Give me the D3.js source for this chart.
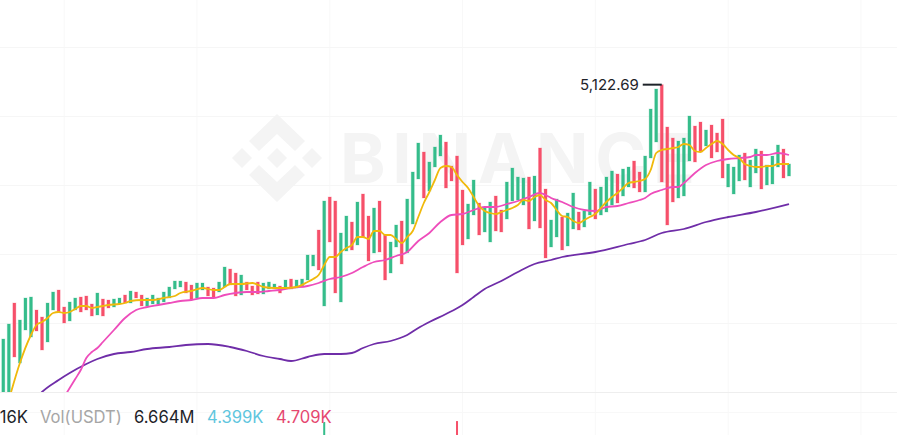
<!DOCTYPE html>
<html>
<head>
<meta charset="utf-8">
<script src="https://cdn.jsdelivr.net/npm/d3@7"></script>
<style>
    html, body { margin: 0; padding: 0; background: #fff; overflow: hidden; }
    svg { display: block; font-family: Inter, "Noto Sans", sans-serif; }
</style>
</head>
<body>
<div id="canvas"></div>
<script>
// candle bodies, one entry per candle
const bodyTop = [3088,3208,3376,3240,3416,3424,3320,3264,3376,3464,
    3480,3344,3384,3416,3424,3432,3368,3456,3408,3400,
    3408,3416,3440,3472,3464,3440,3416,3440,3416,3464,
    3504,3552,3552,3544,3520,3536,3536,3504,3496,3544,
    3664,3648,3616,3600,3544,3512,3544,3536,3544,3528,
    3512,3560,3568,3560,3568,3760,3760,3960,4192,4224,
    4192,3936,4072,4024,4184,4248,4072,4136,4192,3920,
    3864,4000,4032,4208,4424,4656,4584,4504,4624,4720,
    4664,4472,4552,4280,4168,4360,4176,4144,4184,4232,
    4120,4344,4456,4384,4376,4384,4392,4616,4288,4040,
    4208,4064,4096,4256,4104,4112,4344,4288,4304,4384,
    4432,4408,4448,4464,4512,4424,4552,4928,5088,5122.69,
    4784,4696,4672,4696,4872,4792,4824,4760,4800,4736,
    4848,4488,4464,4560,4576,4520,4608,4592,4480,4552,
    4640,4608,4488];
const bodyBottom = [2600,2640,2944,2896,3160,3104,3152,3000,3064,3320,
    3304,3216,3232,3320,3304,3320,3272,3280,3272,3336,
    3344,3368,3376,3376,3416,3352,3352,3368,3368,3384,
    3416,3488,3504,3456,3400,3416,3480,3432,3416,3464,
    3504,3520,3432,3440,3480,3440,3448,3448,3488,3496,
    3456,3488,3488,3496,3512,3560,3672,3640,3352,3864,
    3456,3384,3792,3800,3840,3904,3712,3776,3784,3560,
    3616,3824,3688,3776,4008,4368,4216,4272,4464,4552,
    4296,4352,3616,3840,3888,4080,3920,3944,3864,3952,
    3944,4048,4192,4200,4160,3968,4032,3976,3736,3824,
    3904,3800,3832,3968,3960,3984,4080,4048,4080,4104,
    4160,4176,4232,4304,4296,4264,4264,4536,4664,4344,
    4000,4184,4216,4232,4512,4504,4584,4632,4536,4584,
    4376,4304,4248,4352,4360,4304,4416,4288,4320,4328,
    4464,4376,4392];
// 1 = up candle, 0 = down candle
const rising = [1,1,0,1,1,1,0,0,1,1,
    0,0,1,1,0,0,0,1,0,0,
    1,1,0,1,0,0,1,1,1,1,
    1,1,1,0,0,1,1,0,0,1,
    1,0,0,1,0,0,0,1,1,1,
    0,1,0,1,1,1,1,0,1,0,
    0,1,1,0,1,0,0,1,0,0,
    1,1,0,1,1,1,0,1,1,1,
    0,0,0,0,1,1,0,1,1,0,
    0,1,1,1,1,0,1,0,0,1,
    1,0,1,1,0,1,1,0,1,1,
    1,0,1,1,0,0,1,1,1,0,
    0,0,1,1,1,0,0,1,0,0,
    0,1,1,1,0,1,1,0,1,1,
    1,0,1];

const ma7Index = [1,3,5,6,7,8,9,10,11,12,13,14,15,16,17,18,19,21,22,23,25,27,29,31,32,34,36,38,39,40,41,43,45,47,49,51,53,
    55,56,57,58,59,60,61,62,63,64,65,66,67,68,69,70,71,72,73,74,75,76,77,78,79,80,81,82,83,84,85,86,87,88,89,90,91,92,93,94,95,96,97,98,
    99,100,101,102,103,104,105,106,107,108,109,110,111,112,113,114,115,116,117,118,119,120,121,122,123,124,125,126,127,128,129,130,131,132,133,134,135,136,137,138,139,140,141,142];
const ma7 = [2600,2896,3120,3200,3224,3256,3296,3304,3296,3304,3328,3352,3352,3336,3344,3352,3360,3368,3376,3392,3400,3400,3416,3432,3456,3472,3496,3480,3480,3504,3528,3528,3536,3504,3496,3496,3504,
    3544,3568,3600,3680,3744,3744,3784,3816,3840,3904,3904,3888,3952,3952,3920,3920,3888,3856,3904,3952,4064,4176,4264,4360,4456,4472,4464,4400,4344,4296,4224,4152,4112,4096,4088,4104,4120,4136,4160,4200,4192,4224,4240,4200,
    4176,4120,4072,4064,4032,4016,4040,4064,4088,4136,4184,4224,4256,4296,4336,4344,4352,4368,4440,4576,4600,4608,4616,4624,4648,4640,4592,4584,4616,4648,4672,4648,4600,4560,4536,4488,4472,4464,4464,4472,4472,4488,4488,4488];

const ma25Index = [11,13,14,15,16,17,18,20,22,24,26,28,30,32,34,36,38,40,42,44,46,48,50,52,55,57,59,61,63,65,67,69,71,73,75,77,79,81,83,85,87,89,91,93,95,97,98,99,101,103,105,107,109,111,113,115,116,117,119,121,122,123,125,127,129,131,133,135,136,138,140,142];
const ma25 = [2624,2768,2840,2936,2984,3016,3064,3160,3256,3320,3344,3360,3376,3392,3400,3416,3416,3440,3456,3464,3464,3472,3480,3496,3512,3536,3568,3584,3616,3664,3704,3720,3752,3784,3872,3936,4024,4080,4088,4120,4144,4144,4168,4192,4224,4256,4240,4216,4184,4144,4120,4112,4144,4152,4176,4200,4216,4248,4280,4304,4304,4336,4416,4480,4512,4528,4536,4544,4560,4560,4576,4560];

const ma99Index = [5,7,10,12,15,17,20,23,26,30,33,37,41,44,47,50,52,55,58,61,63,65,67,70,73,75,77,80,83,85,87,90,93,96,99,101,107,113,116,119,123,127,131,136,142];
const ma99 = [2560,2664,2760,2816,2888,2928,2968,2984,3008,3024,3040,3048,3024,2992,2952,2928,2912,2944,2968,2968,2976,3016,3048,3072,3120,3176,3224,3288,3360,3424,3488,3552,3624,3688,3720,3744,3784,3848,3880,3936,3968,4024,4064,4104,4168];

// only the two tallest volume bars reach into the picture
const volumeIndex = [58, 82];
const volumeValues = [26, 26.5];
const volumeRising = [1, 0];

const priceTicks = [5424, 4872, 4320, 3768, 3216, 2664];
const timeTicks = [11, 35, 59, 83, 107, 131, 155];

const width = 897;
const height = 435;
const green = "#35bd8b";
const red = "#f6506a";

const svg = d3.select("#canvas").append("svg")
    .attr("width", width)
    .attr("height", height);

const x = d3.scaleLinear().domain([0, 142]).range([3.3, 789]);
const y = d3.scaleLinear().domain([2664, 5424]).range([392, 47]);
const yVol = d3.scaleLinear().domain([0, 26]).range([470, 422]);

svg.append("defs").append("clipPath").attr("id", "pane")
    .append("rect").attr("width", width).attr("height", 392);

// grid
svg.append("g").selectAll("line").data(timeTicks).enter().append("line")
    .attr("x1", d => x(d)).attr("x2", d => x(d))
    .attr("y1", 0).attr("y2", height)
    .attr("stroke", "#f8f8f8");
svg.append("g").selectAll("line").data(priceTicks).enter().append("line")
    .attr("x1", 0).attr("x2", width)
    .attr("y1", d => y(d) + 0.5).attr("y2", d => y(d) + 0.5)
    .attr("stroke", d => d === 2664 ? "#eeeeee" : "#f6f6f6");
svg.append("line")
    .attr("x1", 0).attr("x2", width).attr("y1", 412.5).attr("y2", 412.5)
    .attr("stroke", "#f8f8f8");

// watermark
const mark = svg.append("g").attr("transform", "translate(277,158)").attr("fill", "#f4f4f4");
mark.append("path").attr("d", "M0,-44L28,-17L18,-7L0,-24L-18,-7L-28,-17Z");
mark.append("path").attr("d", "M0,44L28,17L18,7L0,24L-18,7L-28,17Z");
mark.append("path").attr("d", "M0,-10L10,0L0,10L-10,0Z");
mark.append("path").attr("d", "M-35,-10L-25,0L-35,10L-45,0Z");
mark.append("path").attr("d", "M35,-10L45,0L35,10L25,0Z");
svg.append("text")
    .attr("x", 340).attr("y", 183)
    .attr("font-size", 69).attr("font-weight", 700)
    .attr("textLength", 355).attr("fill", "#f4f4f4")
    .text("BINANCE");

const pane = svg.append("g").attr("clip-path", "url(#pane)");

pane.append("g").selectAll("rect").data(rising).enter().append("rect")
    .attr("x", (d, i) => x(i) - 1.5)
    .attr("width", 3)
    .attr("y", (d, i) => y(bodyTop[i]))
    .attr("height", (d, i) => y(bodyBottom[i]) - y(bodyTop[i]))
    .attr("fill", d => d ? green : red)
    .attr("stroke", d => d ? green : red)
    .attr("stroke-opacity", 0.25);

function drawLine(index, values, color, width) {
    const line = d3.line()
        .x((d, i) => x(index[i]))
        .y(d => y(d))
        .curve(d3.curveMonotoneX);
    pane.append("path")
        .attr("d", line(values))
        .attr("fill", "none")
        .attr("stroke", color)
        .attr("stroke-width", width);
}
drawLine(ma99Index, ma99, "#6f2da8", 1.8);
drawLine(ma25Index, ma25, "#ee4dbb", 1.8);
drawLine(ma7Index, ma7, "#f0b90b", 1.8);

// volume pane, mostly below the window
svg.append("g").selectAll("rect").data(volumeValues).enter().append("rect")
    .attr("x", (d, i) => x(volumeIndex[i]) - 1)
    .attr("width", 2)
    .attr("y", d => yVol(d))
    .attr("height", d => yVol(0) - yVol(d))
    .attr("fill", (d, i) => volumeRising[i] ? green : red);

// high label
const high = d3.max(bodyTop);
const highIndex = bodyTop.indexOf(high);
svg.append("line")
    .attr("x1", x(highIndex) - 19).attr("x2", x(highIndex))
    .attr("y1", y(high)).attr("y2", y(high))
    .attr("stroke", "#1e2329").attr("stroke-width", 2);
svg.append("text")
    .attr("x", x(highIndex) - 23).attr("y", y(high) + 5)
    .attr("text-anchor", "end")
    .attr("font-size", 15).attr("fill", "#1e2329")
    .text(d3.format(",.2f")(high));

// volume legend, the first value runs off the left edge in the source
const legendText = ["16K", "Vol(USDT)", "6.664M", "4.399K", "4.709K"];
const legendX = [28, 40, 134, 207, 276];
const legendColor = ["#1e2329", "#a6a6a6", "#1e2329", "#5fc6de", "#e5476f"];
svg.append("g").selectAll("text").data(legendText).enter().append("text")
    .attr("x", (d, i) => legendX[i])
    .attr("y", 423)
    .attr("text-anchor", (d, i) => i === 0 ? "end" : "start")
    .attr("font-size", 16.6)
    .attr("fill", (d, i) => legendColor[i])
    .text(d => d);
</script>
</body>
</html>
